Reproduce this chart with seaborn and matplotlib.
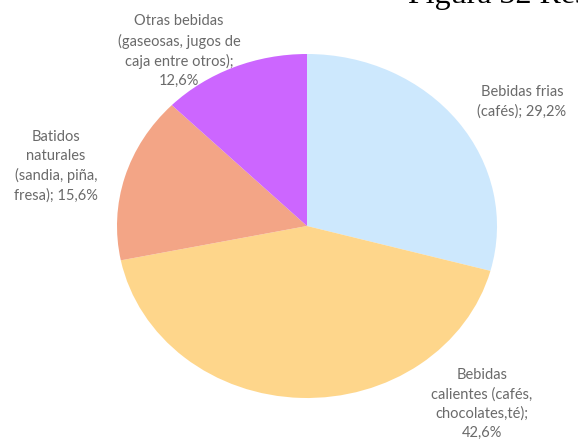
import matplotlib
matplotlib.use("Agg")
import matplotlib.pyplot as plt
import seaborn as sns

categories = ["Bebidas frias\n(cafés)", "Bebidas\ncalientes (cafés,\nchocolates,té)", "Batidos\nnaturales\n(sandia, piña,\nfresa)", "Otras bebidas\n(gaseosas, jugos de\ncaja entre otros)"]
values = [29.2, 42.6, 15.6, 12.6]
colors = ["#CDE8FD", "#FED68B", "#F3A586", "#CC66FF"]
title = "Figura 32 Resultados"

sns.set_style("white")
W, H = 578, 443
fig = plt.figure(figsize=(W / 100, H / 100), dpi=100)
ax = fig.add_axes([117 / W, (H - 398) / H, 380 / W, 344 / H])
ax.pie(values, colors=colors, startangle=90, counterclock=False,
       wedgeprops=dict(linewidth=0))
ax.set_aspect("auto")
ax.set_xlim(-1, 1)
ax.set_ylim(-1, 1)
ax.axis("off")

def fmt(v):
    return f"{v:.1f}%".replace(".", ",")

labels = [
    f"{categories[0]}; {fmt(values[0])}",
    f"{categories[1]};\n{fmt(values[1])}",
    f"{categories[2]}; {fmt(values[2])}",
    f"{categories[3]};\n{fmt(values[3])}",
]
label_pos = [(522, 102), (482, 404), (56, 166), (179, 51)]
for txt, (px, py) in zip(labels, label_pos):
    fig.text(px / W, 1 - py / H, txt, ha="center", va="center",
             fontsize=10.5, color="#6a6a6a", family="Lato", linespacing=1.45)

fig.text(408 / W, 1 - 3 / H, title, ha="left", va="baseline",
         fontsize=23, family="Liberation Serif", color="black")

fig.savefig("out.png", dpi=100)
